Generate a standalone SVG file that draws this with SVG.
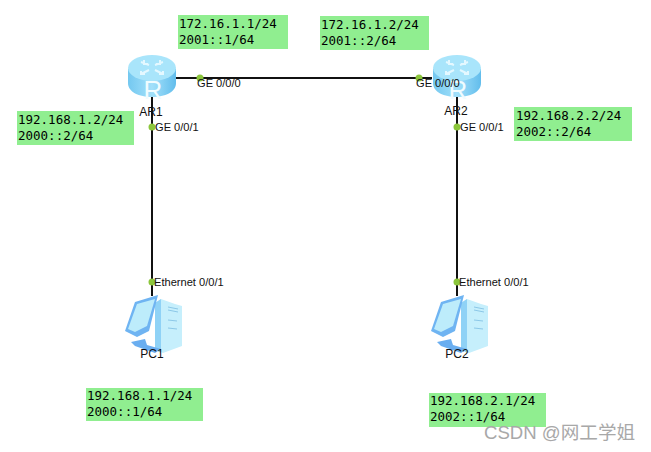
<svg xmlns="http://www.w3.org/2000/svg" width="651" height="452" viewBox="0 0 651 452">
<style>
.box{fill:#90ee90}
.mono{font:12.5px "DejaVu Sans Mono","Liberation Mono",monospace;fill:#000}
.lbl{font:11.1px "Liberation Sans",Arial,sans-serif;fill:#111}
.name{font:12px "Liberation Sans",Arial,sans-serif;fill:#111;text-anchor:middle}
.link{stroke:#111;stroke-width:2;fill:none}
.dot{fill:#8cc63c}
</style>
<defs>
<linearGradient id="rs" x1="0" x2="1" y1="0" y2="0"><stop offset="0" stop-color="#74c8f0"/><stop offset=".5" stop-color="#a2e0fa"/><stop offset="1" stop-color="#62bdec"/></linearGradient>
<g id="router">
<path d="M0 14V28C0 37 11 42 24 42S48 37 48 28V14Z" fill="url(#rs)"/>
<ellipse cx="24" cy="13" rx="24" ry="13" fill="#a9e5fb"/>
<g stroke="#e4f8ff" stroke-width="2" fill="none"><path d="M13 7l8 3M16 5v4h4M35 7l-8 3M32 5v4h-4M13 19l8-4M17 19h-4v-3M35 19l-8-4M31 19h4v-3"/></g>
<text x="25" y="44" text-anchor="middle" style="font:26px 'Liberation Sans',sans-serif;fill:#f0fcff">R</text>
</g>
<g id="pc">
<path d="M30 8L36 4L50 9L57 11V51L38 58L30 54Z" fill="#c6effc"/>
<path d="M36 4L36 58L30 54V8Z" fill="#8fd2f6"/>
<path d="M43 12L53 14M43 15L53 17M43 25L52 26M43 33L52 34" stroke="#8cc8e8" fill="none"/>
<path d="M0 36L10 7L33 0L24 36L12 42Z" fill="#6fb4f2"/>
<path d="M3 34L12 9L30 4L22 31L10 37Z" fill="#bdecfb"/>
<path d="M6 47L20 44L22 50L36 54L30 58L10 51Z" fill="#6aaef0"/>
</g>
</defs>
<rect width="651" height="452" fill="#fff"/>
<g id="connectors">
<path class="link" d="M176 78H432"/>
<path class="link" d="M152 97V296"/>
<path class="link" d="M457 97V296"/>
<circle class="dot" cx="200" cy="78" r="3.5"/>
<circle class="dot" cx="419" cy="78" r="3.5"/>
<circle class="dot" cx="152" cy="127" r="3.5"/>
<circle class="dot" cx="457" cy="127" r="3.5"/>
<circle class="dot" cx="152" cy="282" r="3.5"/>
<circle class="dot" cx="457" cy="282" r="3.5"/>
</g>
<g id="AR1"><use href="#router" x="128" y="55"/><text class="name" x="151" y="116">AR1</text></g>
<g id="AR2"><use href="#router" x="433" y="55"/><text class="name" x="456" y="115">AR2</text></g>
<g id="PC1"><use href="#pc" x="125" y="295"/><text class="name" x="152" y="358">PC1</text></g>
<g id="PC2"><use href="#pc" x="431" y="295"/><text class="name" x="457" y="358">PC2</text></g>
<g id="port-labels">
<text class="lbl" x="197" y="87">GE 0/0/0</text>
<text class="lbl" x="416" y="87">GE 0/0/0</text>
<text class="lbl" x="155" y="131">GE 0/0/1</text>
<text class="lbl" x="460" y="131">GE 0/0/1</text>
<text class="lbl" x="154" y="286">Ethernet 0/0/1</text>
<text class="lbl" x="459" y="286">Ethernet 0/0/1</text>
</g>
<g id="addr-1"><rect class="box" x="178" y="15" width="110" height="34"/><text class="mono" x="179" y="28">172.16.1.1/24</text><text class="mono" x="179" y="44">2001::1/64</text></g>
<g id="addr-2"><rect class="box" x="320" y="16" width="109" height="34"/><text class="mono" x="321" y="29">172.16.1.2/24</text><text class="mono" x="321" y="45">2001::2/64</text></g>
<g id="addr-3"><rect class="box" x="17" y="111" width="117" height="34"/><text class="mono" x="18" y="124">192.168.1.2/24</text><text class="mono" x="18" y="140">2000::2/64</text></g>
<g id="addr-4"><rect class="box" x="514" y="107" width="118" height="34"/><text class="mono" x="516" y="120">192.168.2.2/24</text><text class="mono" x="516" y="136">2002::2/64</text></g>
<g id="addr-5"><rect class="box" x="86" y="388" width="117" height="33"/><text class="mono" x="87" y="400">192.168.1.1/24</text><text class="mono" x="87" y="416">2000::1/64</text></g>
<g id="addr-6"><rect class="box" x="429" y="393" width="117" height="34"/><text class="mono" x="430" y="405">192.168.2.1/24</text><text class="mono" x="430" y="421">2002::1/64</text></g>
<text x="484" y="439" style="font:18.6px 'Liberation Sans','Noto Sans CJK SC',sans-serif;fill:#a8a8a8">CSDN @网工学姐</text>
</svg>
